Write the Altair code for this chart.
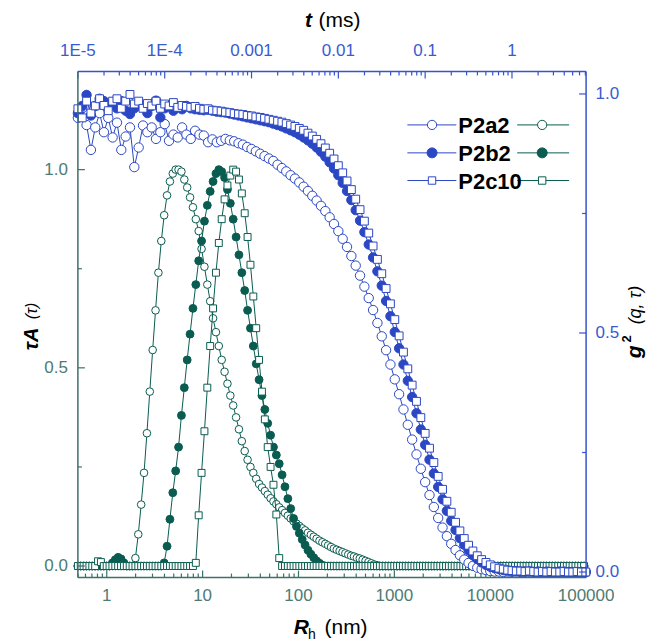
import altair as alt
import numpy as np
import pandas as pd

# ---------------- data ----------------
SERIES = ["P2a2", "P2b2", "P2c10"]

# CONTIN size grid, R_h in nm: log-spaced, 0.03 decade per point from 0.5 nm
R_LOG0, R_DLOG, R_N = np.log10(0.5), 0.03, 177

TAU_A_P2a2 = [0.0] * 20 + [
    0.02, 0.08, 0.155, 0.235, 0.335, 0.44, 0.545, 0.645, 0.74, 0.82,
    0.885, 0.935, 0.97, 0.99, 1.0, 1.0, 0.995, 0.975, 0.955, 0.93,
    0.905, 0.875, 0.845, 0.80, 0.755, 0.71, 0.668, 0.625, 0.59, 0.555,
    0.52, 0.49, 0.46, 0.43, 0.405, 0.375, 0.345, 0.315, 0.29, 0.268,
    0.25, 0.235, 0.22, 0.207, 0.198, 0.189, 0.18, 0.171, 0.163, 0.156,
    0.148, 0.141, 0.134, 0.127, 0.12, 0.113, 0.107, 0.101, 0.095, 0.09,
    0.084, 0.079, 0.074, 0.069, 0.064, 0.06, 0.056, 0.052, 0.048, 0.044,
    0.041, 0.038, 0.035, 0.032, 0.029, 0.026, 0.024, 0.021, 0.019, 0.016,
    0.013, 0.01, 0.007, 0.004, 0.002] + [0.0] * 72

TAU_A_P2b2 = [0.0] * 12 + [0.008, 0.016, 0.022, 0.018, 0.008] + [0.0] * 13 + [
    0.008, 0.05, 0.118, 0.185, 0.24, 0.3, 0.38, 0.45, 0.52, 0.585,
    0.65, 0.71, 0.77, 0.82, 0.87, 0.91, 0.945, 0.97, 0.99, 1.0,
    0.995, 0.98, 0.95, 0.915, 0.875, 0.83, 0.785, 0.74, 0.695, 0.645,
    0.6, 0.555, 0.51, 0.47, 0.43, 0.395, 0.36, 0.33, 0.30, 0.28,
    0.258, 0.23, 0.2, 0.17, 0.145, 0.12, 0.1, 0.083, 0.067, 0.053,
    0.04, 0.03, 0.021, 0.013, 0.007, 0.002] + [0.0] * 91

TAU_A_P2c10 = [0.0] * 7 + [0.012, 0.01] + [0.0] * 32 + [
    0.008, 0.128, 0.235, 0.34, 0.45, 0.555, 0.65, 0.74, 0.815, 0.875,
    0.925, 0.96, 0.985, 1.0, 0.995, 0.975, 0.94, 0.89, 0.83, 0.76,
    0.68, 0.6, 0.52, 0.44, 0.37, 0.3, 0.25, 0.205, 0.13, 0.02] + [0.0] * 106

# correlator delay times, t in ms: log-spaced, 0.05 decade per channel from 1E-5 ms
T_LOG0, T_DLOG, T_N = -5.0, 0.05, 118

G2_P2a2 = [
    0.95, 0.97, 0.935, 0.883, 0.93, 0.96, 0.92, 0.95, 0.909, 0.94,
    0.883, 0.911, 0.93, 0.847, 0.888, 0.934, 0.92, 0.93, 0.906, 0.92,
    0.937, 0.902, 0.915, 0.909, 0.93, 0.915, 0.906, 0.923, 0.915, 0.913,
    0.899, 0.905, 0.899, 0.902, 0.906, 0.903, 0.901, 0.897, 0.894, 0.889,
    0.885, 0.88, 0.875, 0.87, 0.865, 0.86, 0.852, 0.845, 0.838, 0.83,
    0.823, 0.815, 0.806, 0.797, 0.787, 0.777, 0.766, 0.755, 0.742, 0.728,
    0.713, 0.697, 0.68, 0.661, 0.641, 0.62, 0.597, 0.573, 0.548, 0.521,
    0.493, 0.464, 0.434, 0.403, 0.372, 0.34, 0.308, 0.277, 0.246, 0.216,
    0.188, 0.161, 0.136, 0.113, 0.093, 0.075, 0.059, 0.046, 0.035, 0.026,
    0.019, 0.013, 0.009, 0.006, 0.004, 0.002, 0.001, 0.001, 0.0, 0.001,
    0.0, 0.001, 0.0, 0.0, 0.001, 0.0, 0.0, 0.0, 0.001, 0.0,
    0.0, 0.0, 0.001, 0.0, 0.0, 0.0, 0.0, 0.0]

G2_P2b2 = [
    0.96, 0.975, 0.998, 0.955, 0.975, 0.99, 0.985, 0.975, 0.979, 0.97,
    0.985, 0.965, 0.958, 0.97, 0.98, 0.975, 0.96, 0.975, 0.986, 0.951,
    0.97, 0.975, 0.965, 0.972, 0.968, 0.975, 0.97, 0.968, 0.967, 0.966,
    0.967, 0.965, 0.963, 0.962, 0.961, 0.959, 0.957, 0.955, 0.953, 0.951,
    0.949, 0.947, 0.945, 0.943, 0.941, 0.938, 0.935, 0.932, 0.928, 0.924,
    0.92, 0.915, 0.909, 0.903, 0.896, 0.888, 0.879, 0.869, 0.857, 0.844,
    0.83, 0.814, 0.797, 0.778, 0.757, 0.735, 0.711, 0.685, 0.658, 0.629,
    0.599, 0.567, 0.535, 0.502, 0.468, 0.434, 0.4, 0.366, 0.332, 0.298,
    0.266, 0.235, 0.206, 0.178, 0.152, 0.128, 0.107, 0.088, 0.071, 0.057,
    0.045, 0.035, 0.027, 0.02, 0.015, 0.011, 0.008, 0.006, 0.004, 0.003,
    0.002, 0.002, 0.001, 0.001, 0.001, 0.0, 0.001, 0.0, 0.0, 0.0,
    0.0, 0.001, 0.0, 0.0, 0.0, 0.0, 0.0, 0.0]

G2_P2c10 = [
    0.969, 0.95, 0.985, 0.96, 0.975, 0.99, 0.976, 0.965, 0.985, 0.99,
    0.97, 0.985, 0.999, 0.979, 0.985, 0.97, 0.98, 0.975, 0.985, 0.97,
    0.979, 0.975, 0.982, 0.972, 0.976, 0.974, 0.972, 0.974, 0.97, 0.968,
    0.969, 0.966, 0.965, 0.964, 0.962, 0.961, 0.959, 0.958, 0.957, 0.955,
    0.954, 0.952, 0.951, 0.949, 0.947, 0.945, 0.943, 0.941, 0.938, 0.935,
    0.932, 0.928, 0.924, 0.918, 0.912, 0.905, 0.896, 0.887, 0.876, 0.864,
    0.85, 0.835, 0.818, 0.8, 0.78, 0.758, 0.734, 0.709, 0.682, 0.654,
    0.624, 0.593, 0.561, 0.528, 0.494, 0.46, 0.425, 0.391, 0.357, 0.323,
    0.29, 0.259, 0.229, 0.2, 0.173, 0.148, 0.125, 0.104, 0.086, 0.07,
    0.056, 0.044, 0.034, 0.026, 0.02, 0.015, 0.011, 0.008, 0.006, 0.004,
    0.003, 0.002, 0.002, 0.001, 0.002, 0.001, 0.0, 0.001, 0.0, 0.001,
    0.0, 0.0, 0.001, 0.0, 0.0, 0.001, 0.0, 0.0]

# axis ticks and their labels
R_MAJOR = [1, 10, 100, 1000, 10000, 100000]
R_LABELS = ["1", "10", "100", "1000", "10000", "100000"]
T_MAJOR = [1e-5, 1e-4, 1e-3, 1e-2, 1e-1, 1]
T_LABELS = ["1E-5", "1E-4", "0.001", "0.01", "0.1", "1"]
Y_MAJOR = [0.0, 0.5, 1.0]
Y_LABELS = ["0.0", "0.5", "1.0"]
Y_MINOR = [0.25, 0.75]

# ---------------- styling ----------------
W, H = 509, 507
FONT = "Liberation Sans"
BLUE = "#2b47c4"
GREEN = "#0a5c50"
AX_G = "#3f6f67"
LAB_G = "#4e7b73"
AX_B = "#3553cc"
LAB_B = "#3a5bd0"

R_vals = 10 ** (R_LOG0 + R_DLOG * np.arange(R_N))
t_vals = 10 ** (T_LOG0 + T_DLOG * np.arange(T_N))
R_MINOR = [m * 10.0 ** k for k in range(-1, 5) for m in range(2, 10) if 0.5 <= m * 10.0 ** k <= 100000]
T_MINOR = [m * 10.0 ** k for k in range(-5, 1) for m in range(2, 10) if m * 10.0 ** k <= 7.14]

xR = alt.Scale(type="log", domain=[0.5, 100000], nice=False)
yA = alt.Scale(domain=[-0.0292, 1.2478], nice=False, zero=False)
xT = alt.Scale(type="log", domain=[1e-5, 7.14], nice=False)
yG = alt.Scale(domain=[-0.0117, 1.0472], nice=False, zero=False)

ONE = pd.DataFrame({"k": [0]})


def series(xs, ys, xscale, yscale, color, shape, filled, size):
    df = pd.DataFrame({"x": xs, "y": ys})
    base = alt.Chart(df).encode(x=alt.X("x:Q", scale=xscale, axis=None),
                                y=alt.Y("y:Q", scale=yscale, axis=None))
    line = base.mark_line(color=color, strokeWidth=1)
    pts = base.mark_point(shape=shape, filled=True, fill=color if filled else "white",
                          stroke=color, strokeWidth=1, size=size, opacity=1)
    return [line, pts]


def xticks(vals, scale, color, y0, y1):
    return alt.Chart(pd.DataFrame({"v": vals})).mark_rule(color=color, strokeWidth=1.2).encode(
        x=alt.X("v:Q", scale=scale, axis=None), y=alt.value(y0), y2=alt.value(y1))


def yticks(vals, scale, color, x0, x1):
    return alt.Chart(pd.DataFrame({"v": vals})).mark_rule(color=color, strokeWidth=1.2).encode(
        y=alt.Y("v:Q", scale=scale, axis=None), x=alt.value(x0), x2=alt.value(x1))


def xlabels(vals, labels, scale, color, y):
    df = pd.DataFrame({"v": vals, "lab": labels})
    return alt.Chart(df).mark_text(font=FONT, fontSize=17, color=color, baseline="middle",
                                   align="center").encode(
        x=alt.X("v:Q", scale=scale, axis=None), y=alt.value(y), text="lab:N")


def ylabels(vals, labels, scale, color, x, align):
    df = pd.DataFrame({"v": vals, "lab": labels})
    return alt.Chart(df).mark_text(font=FONT, fontSize=17, color=color, baseline="middle",
                                   align=align).encode(
        y=alt.Y("v:Q", scale=scale, axis=None), x=alt.value(x), text="lab:N")


def frame_line(color, x0, x1, y0, y1):
    return alt.Chart(ONE).mark_rule(color=color, strokeWidth=1.5).encode(
        x=alt.value(x0), x2=alt.value(x1), y=alt.value(y0), y2=alt.value(y1))


green = alt.layer(
    *series(R_vals, TAU_A_P2a2, xR, yA, GREEN, "circle", False, 58),
    *series(R_vals, TAU_A_P2b2, xR, yA, GREEN, "circle", True, 62),
    *series(R_vals, TAU_A_P2c10, xR, yA, GREEN, "square", False, 48),
    xticks(R_MAJOR, xR, AX_G, H, H - 7),
    xticks(R_MINOR, xR, AX_G, H, H - 4),
    xlabels(R_MAJOR, R_LABELS, xR, LAB_G, H + 18),
    yticks(Y_MAJOR, yA, AX_G, 0, 7),
    yticks(Y_MINOR, yA, AX_G, 0, 4),
    ylabels(Y_MAJOR, Y_LABELS, yA, LAB_G, -10, "right"),
)

blue = alt.layer(
    *series(t_vals, G2_P2a2, xT, yG, BLUE, "circle", False, 88),
    *series(t_vals, G2_P2b2, xT, yG, BLUE, "circle", True, 88),
    *series(t_vals, G2_P2c10, xT, yG, BLUE, "square", False, 62),
    xticks(T_MAJOR, xT, AX_B, 0, 7),
    xticks(T_MINOR, xT, AX_B, 0, 4),
    xlabels(T_MAJOR, T_LABELS, xT, LAB_B, -20),
    yticks(Y_MAJOR, yG, AX_B, W, W - 7),
    yticks(Y_MINOR, yG, AX_B, W, W - 4),
    ylabels(Y_MAJOR, Y_LABELS, yG, LAB_B, W + 9.5, "left"),
)

frame = [
    frame_line(AX_G, 0, 0, 0, H),
    frame_line(AX_G, 0, W, H, H),
    frame_line(AX_B, 0, W, 0, 0),
    frame_line(AX_B, W, W, 0, H),
]


def txt(s, x, y, size, weight="normal", style="normal", align="center", baseline="middle", angle=0, color="black"):
    return alt.Chart(ONE).mark_text(text=s, font=FONT, fontSize=size, fontWeight=weight, fontStyle=style,
                                    align=align, baseline=baseline, angle=angle, color=color).encode(
        x=alt.value(x), y=alt.value(y))


# legend
legend = []
rows_y = [53.6, 81.6, 109.3]
shapes = [("circle", False, 86), ("circle", True, 100), ("square", False, 55)]
for name, ry, (shp, fil, sz) in zip(SERIES, rows_y, shapes):
    for col, xa, xb, xm in [(BLUE, 330, 379, 354.7), (GREEN, 440, 492, 465)]:
        legend.append(alt.Chart(ONE).mark_rule(color=col, strokeWidth=1).encode(
            x=alt.value(xa), x2=alt.value(xb), y=alt.value(ry)))
        legend.append(alt.Chart(ONE).mark_point(shape=shp, filled=True, fill=col if fil else "white",
                                                stroke=col, strokeWidth=1, size=sz, opacity=1).encode(
            x=alt.value(xm), y=alt.value(ry)))
    legend.append(txt(name, 381, ry + 1, 22, weight="bold", align="left"))

titles = [
    txt("t", 231, -44, 21, weight="bold", style="italic", baseline="alphabetic"),
    txt("(ms)", 241, -44, 21, align="left", baseline="alphabetic"),
    txt("R", 223.7, 563, 21, weight="bold", style="italic", baseline="alphabetic"),
    txt("h", 230.5, 568, 14, align="left", baseline="alphabetic"),
    txt("(nm)", 247, 563, 21, align="left", baseline="alphabetic"),
    txt("τA", -46, 268, 20, weight="bold", style="italic", angle=270),
    txt("(τ)", -46, 240, 16, style="italic", angle=270),
    txt("g", 558, 281, 21, weight="bold", style="italic", angle=270),
    txt("2", 550, 268, 13, weight="bold", angle=270),
    txt("(q, τ)", 559, 234, 18, style="italic", angle=270),
]

chart = alt.layer(green, blue, *frame, *legend, *titles).resolve_scale(
    x="independent", y="independent"
).properties(
    width=W, height=H,
    autosize=alt.AutoSizeParams(type="none"),
    padding={"left": 70, "top": 63, "right": 62, "bottom": 70},
).configure_view(stroke=None)

chart.save("out.html", embed_options={"renderer": "svg", "actions": False})
